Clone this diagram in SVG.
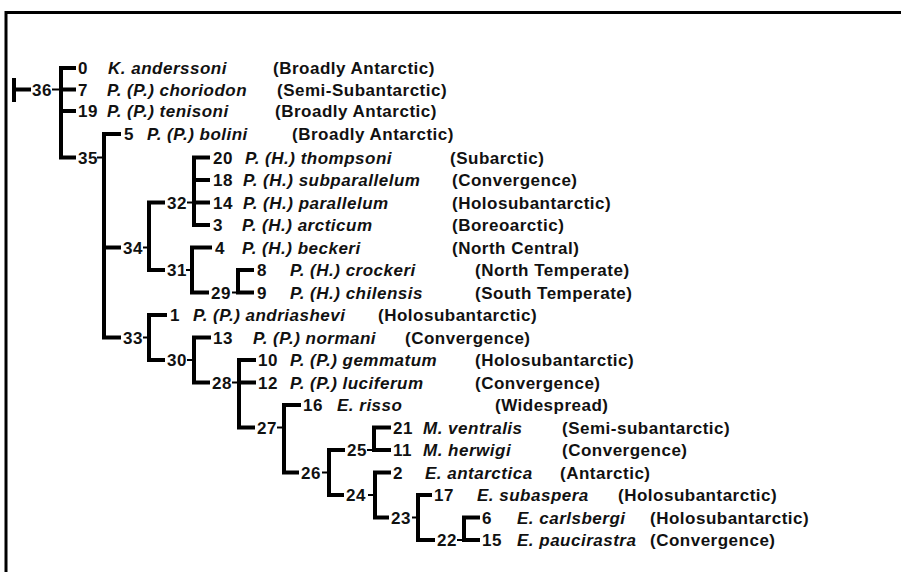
<svg xmlns="http://www.w3.org/2000/svg" width="901" height="572" viewBox="0 0 901 572">
<style>
text{font-family:"Liberation Sans",Arial,sans-serif;font-size:17px;font-weight:bold;letter-spacing:0.5px;fill:#111}
.sp{font-style:italic}
.br{fill:none;stroke:#000;stroke-width:4;stroke-linejoin:miter}
.tk{fill:none;stroke:#000;stroke-width:2}
.fr{fill:none;stroke:#000;stroke-width:3}
</style>
<rect width="901" height="572" fill="#fff"/>
<path class="fr" d="M6,572 V12.5 H901"/>
<g id="connectors">
<path class="br" d="M14,78 V102 M14,89.5 H31"/>
<path class="br" d="M76,68 H61 V157.5 H76 M61,89.5 H76 M61,111 H76"/><path class="tk" d="M52,89.5 H60"/>
<path class="br" d="M121,134 H104 V337.5 H121 M104,247.5 H121"/><path class="tk" d="M97,157.5 H103"/>
<path class="br" d="M165,202.5 H149 V270 H165"/><path class="tk" d="M143,247.5 H148"/>
<path class="br" d="M210,157.5 H194 V225 H210 M194,180 H210 M194,202.5 H210"/><path class="tk" d="M187,202.5 H193"/>
<path class="br" d="M212,247.5 H192 V292.5 H209"/><path class="tk" d="M186,270 H191"/>
<path class="br" d="M254,270 H238 V292.5 H254"/><path class="tk" d="M232,292.5 H237"/>
<path class="br" d="M167,315 H149 V360 H165"/><path class="tk" d="M143,337.5 H148"/>
<path class="br" d="M211,337.5 H194 V382.5 H210"/><path class="tk" d="M187,360 H193"/>
<path class="br" d="M256,360 H239 V427.5 H255 M239,382.5 H256"/><path class="tk" d="M232,382.5 H238"/>
<path class="br" d="M301,405 H284 V472.5 H299"/><path class="tk" d="M277,427.5 H283"/>
<path class="br" d="M345,450 H329 V495 H344"/><path class="tk" d="M322,472.5 H328"/>
<path class="br" d="M391,427.5 H374 V450 H391"/><path class="tk" d="M367,450 H373"/>
<path class="br" d="M391,472.5 H375 V517.5 H389"/><path class="tk" d="M368,495 H374"/>
<path class="br" d="M432,495 H418 V540 H435"/><path class="tk" d="M412,517.5 H417"/>
<path class="br" d="M480,517.5 H464 V540 H480"/><path class="tk" d="M457,540 H463"/>
</g>
<g id="n36"><text x="32" y="95.5">36</text></g>
<g id="n35"><text x="78" y="163.5">35</text></g>
<g id="n34"><text x="123" y="253.5">34</text></g>
<g id="n32"><text x="167" y="208.5">32</text></g>
<g id="n31"><text x="167" y="276">31</text></g>
<g id="n29"><text x="211" y="298.5">29</text></g>
<g id="n33"><text x="123" y="343.5">33</text></g>
<g id="n30"><text x="167" y="366">30</text></g>
<g id="n28"><text x="212" y="388.5">28</text></g>
<g id="n27"><text x="257" y="433.5">27</text></g>
<g id="n26"><text x="301" y="478.5">26</text></g>
<g id="n25"><text x="347" y="456">25</text></g>
<g id="n24"><text x="346" y="501">24</text></g>
<g id="n23"><text x="391" y="523.5">23</text></g>
<g id="n22"><text x="437" y="546">22</text></g>
<g id="leaf0"><text x="78" y="74">0</text><text class="sp" x="108" y="74">K. anderssoni</text><text x="273" y="74">(Broadly Antarctic)</text></g>
<g id="leaf7"><text x="78" y="95.5">7</text><text class="sp" x="107" y="95.5">P. (P.) choriodon</text><text x="277" y="95.5">(Semi-Subantarctic)</text></g>
<g id="leaf19"><text x="78" y="117">19</text><text class="sp" x="107" y="117">P. (P.) tenisoni</text><text x="275" y="117">(Broadly Antarctic)</text></g>
<g id="leaf5"><text x="124" y="140">5</text><text class="sp" x="147" y="140">P. (P.) bolini</text><text x="292" y="140">(Broadly Antarctic)</text></g>
<g id="leaf20"><text x="213" y="163.5">20</text><text class="sp" x="245" y="163.5">P. (H.) thompsoni</text><text x="450" y="163.5">(Subarctic)</text></g>
<g id="leaf18"><text x="213" y="186">18</text><text class="sp" x="243" y="186">P. (H.) subparallelum</text><text x="452" y="186">(Convergence)</text></g>
<g id="leaf14"><text x="213" y="208.5">14</text><text class="sp" x="243" y="208.5">P. (H.) parallelum</text><text x="452" y="208.5">(Holosubantarctic)</text></g>
<g id="leaf3"><text x="213" y="231">3</text><text class="sp" x="242" y="231">P. (H.) arcticum</text><text x="452" y="231">(Boreoarctic)</text></g>
<g id="leaf4"><text x="215" y="253.5">4</text><text class="sp" x="242" y="253.5">P. (H.) beckeri</text><text x="452" y="253.5">(North Central)</text></g>
<g id="leaf8"><text x="257" y="276">8</text><text class="sp" x="290" y="276">P. (H.) crockeri</text><text x="475" y="276">(North Temperate)</text></g>
<g id="leaf9"><text x="257" y="298.5">9</text><text class="sp" x="290" y="298.5">P. (H.) chilensis</text><text x="475" y="298.5">(South Temperate)</text></g>
<g id="leaf1"><text x="170" y="321">1</text><text class="sp" x="193" y="321">P. (P.) andriashevi</text><text x="378" y="321">(Holosubantarctic)</text></g>
<g id="leaf13"><text x="213" y="343.5">13</text><text class="sp" x="253" y="343.5">P. (P.) normani</text><text x="405" y="343.5">(Convergence)</text></g>
<g id="leaf10"><text x="258" y="366">10</text><text class="sp" x="290" y="366">P. (P.) gemmatum</text><text x="475" y="366">(Holosubantarctic)</text></g>
<g id="leaf12"><text x="258" y="388.5">12</text><text class="sp" x="290" y="388.5">P. (P.) luciferum</text><text x="475" y="388.5">(Convergence)</text></g>
<g id="leaf16"><text x="303" y="411">16</text><text class="sp" x="337" y="411">E. risso</text><text x="495" y="411">(Widespread)</text></g>
<g id="leaf21"><text x="393" y="433.5">21</text><text class="sp" x="423" y="433.5">M. ventralis</text><text x="562" y="433.5">(Semi-subantarctic)</text></g>
<g id="leaf11"><text x="393" y="456">11</text><text class="sp" x="423" y="456">M. herwigi</text><text x="562" y="456">(Convergence)</text></g>
<g id="leaf2"><text x="393" y="478.5">2</text><text class="sp" x="425" y="478.5">E. antarctica</text><text x="560" y="478.5">(Antarctic)</text></g>
<g id="leaf17"><text x="434" y="501">17</text><text class="sp" x="477" y="501">E. subaspera</text><text x="618" y="501">(Holosubantarctic)</text></g>
<g id="leaf6"><text x="482" y="523.5">6</text><text class="sp" x="517" y="523.5">E. carlsbergi</text><text x="650" y="523.5">(Holosubantarctic)</text></g>
<g id="leaf15"><text x="482" y="546">15</text><text class="sp" x="517" y="546">E. paucirastra</text><text x="650" y="546">(Convergence)</text></g>
</svg>
